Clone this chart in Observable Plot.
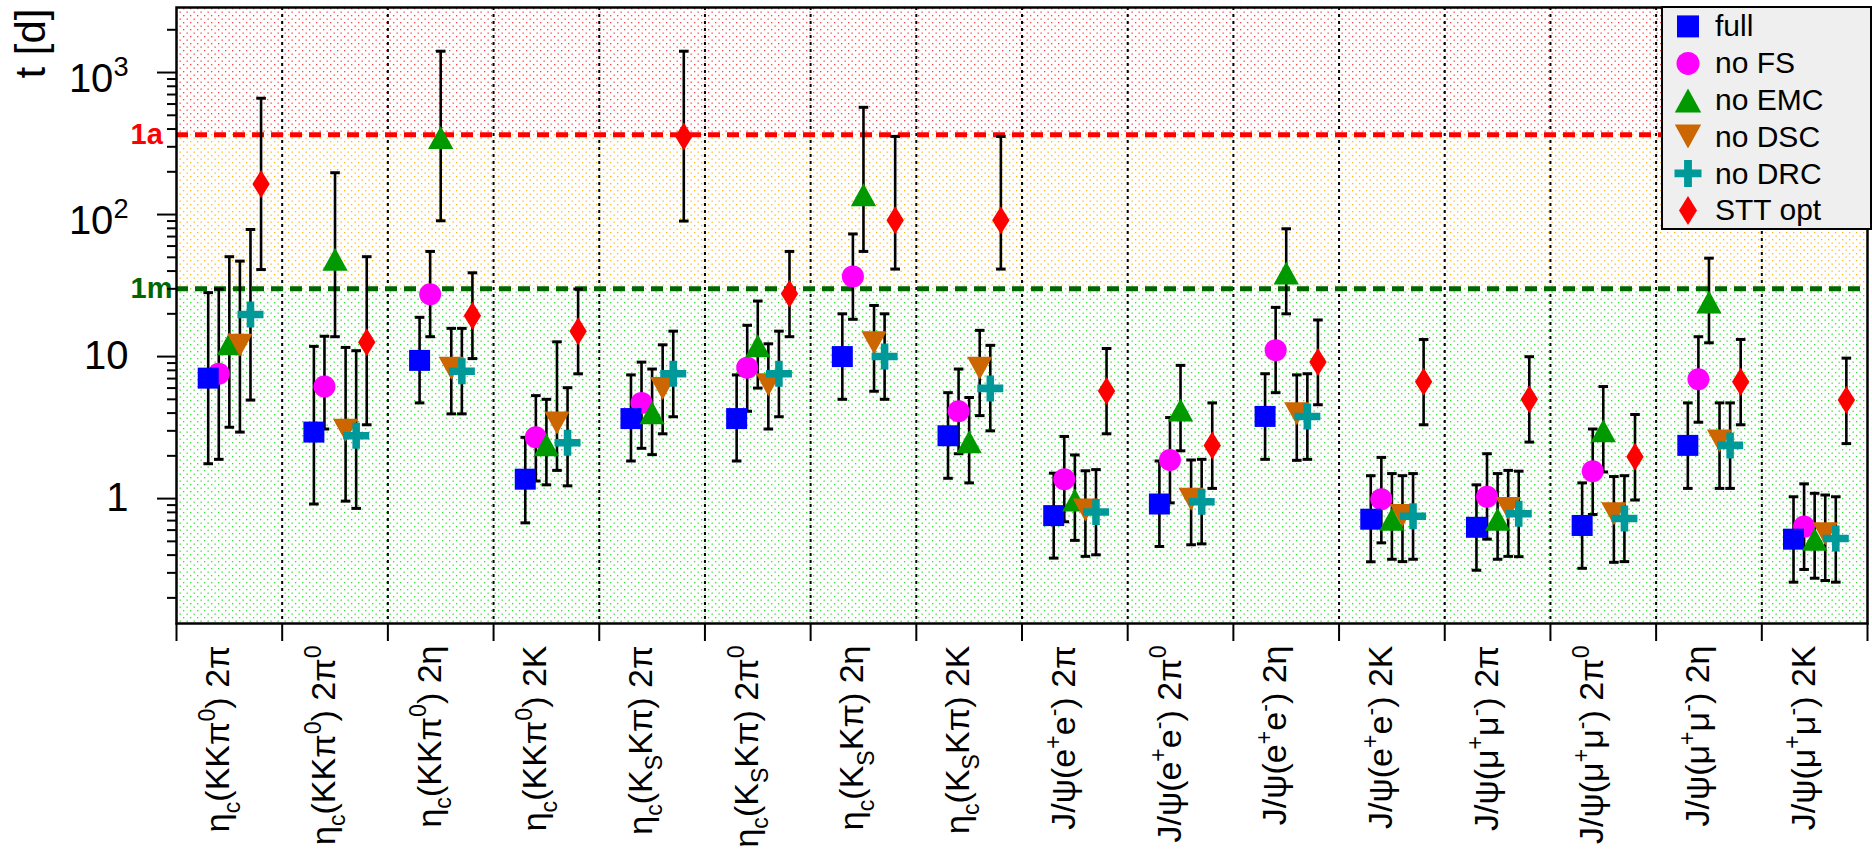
<!DOCTYPE html>
<html>
<head>
<meta charset="utf-8">
<title>Measurement time per channel</title>
<script src="https://cdn.jsdelivr.net/npm/d3@7"></script>
<script src="https://cdn.jsdelivr.net/npm/@observablehq/plot@0.6"></script>
<style>
  html, body { margin: 0; padding: 0; background: #fff; }
  #chart { position: relative; width: 1872px; height: 854px; overflow: hidden;
           font-family: "Liberation Sans", Arial, Helvetica, sans-serif; }
  #chart > svg { display: block; }
  #legend { position: absolute; left: 1661px; top: 6px; width: 211px; height: 224px;
            box-sizing: border-box; background: #efefef; border: 2px solid #000; }
  #legend .row { display: flex; align-items: center; height: 36.8px; }
  #legend svg { flex: none; display: block; }
  #legend span { font-size: 30px; line-height: 1; color: #000; }
</style>
</head>
<body>
<div id="chart"></div>
<script>
// Decay channels (x categories); _{..} and ^{..} mark sub- and superscripts
const categories = [
  "η_{c}(KKπ^{0}) 2π", "η_{c}(KKπ^{0}) 2π^{0}", "η_{c}(KKπ^{0}) 2η", "η_{c}(KKπ^{0}) 2K",
  "η_{c}(K_{S}Kπ) 2π", "η_{c}(K_{S}Kπ) 2π^{0}", "η_{c}(K_{S}Kπ) 2η", "η_{c}(K_{S}Kπ) 2K",
  "J/ψ(e^{+}e^{-}) 2π", "J/ψ(e^{+}e^{-}) 2π^{0}", "J/ψ(e^{+}e^{-}) 2η", "J/ψ(e^{+}e^{-}) 2K",
  "J/ψ(μ^{+}μ^{-}) 2π", "J/ψ(μ^{+}μ^{-}) 2π^{0}", "J/ψ(μ^{+}μ^{-}) 2η", "J/ψ(μ^{+}μ^{-}) 2K"
];

const seriesNames = ["full", "no FS", "no EMC", "no DSC", "no DRC", "STT opt"];
const seriesColors = ["#0000ff", "#ff00ff", "#009900", "#cc6600", "#009999", "#ff0000"];

// Required time t [d] per channel, with lower / upper error bounds
const full   = [7.05, 2.94, 9.4, 1.37, 3.66, 3.66, 10.0, 2.77, 0.759, 0.916, 3.79, 0.716, 0.628, 0.647, 2.37, 0.518];
const fullLo = [1.76, 0.916, 4.72, 0.675, 1.84, 1.84, 5.0, 1.39, 0.381, 0.46, 1.89, 0.359, 0.313, 0.323, 1.18, 0.258];
const fullHi = [28.2, 11.8, 18.9, 2.70, 7.43, 7.43, 20.0, 5.57, 1.51, 1.84, 7.57, 1.45, 1.25, 1.29, 4.72, 1.03];

const noFS   = [7.56, 6.15, 27.5, 2.70, 4.72, 8.36, 36.7, 4.12, 1.37, 1.87, 11.1, 0.99, 1.03, 1.56, 6.92, 0.635];
const noFSLo = [1.89, 3.09, 13.8, 1.33, 2.26, 4.12, 18.3, 2.07, 0.687, 0.933, 5.57, 0.488, 0.518, 0.773, 3.45, 0.317];
const noFSHi = [29.9, 13.9, 55.0, 5.31, 9.14, 16.6, 73.0, 8.17, 2.74, 3.72, 22.2, 1.95, 2.07, 3.09, 13.8, 1.27];

const noEMC   = [12.3, 48.4, 349, 2.39, 4.03, 11.9, 138, 2.51, 0.977, 4.2, 38.7, 0.716, 0.716, 3.0, 24.2, 0.518];
const noEMCLo = [3.18, 13.8, 90.4, 1.25, 2.04, 6.0, 55.0, 1.29, 0.508, 2.17, 20.0, 0.374, 0.374, 1.54, 12.5, 0.275];
const noEMCHi = [50.5, 197, 1413, 5.0, 8.17, 24.6, 569, 5.15, 2.03, 8.67, 79.4, 1.50, 1.50, 6.15, 49.3, 1.09];

const noDSC   = [12.0, 3.03, 8.26, 3.41, 5.97, 6.34, 12.5, 8.26, 0.83, 0.99, 3.95, 0.76, 0.853, 0.782, 2.54, 0.565];
const noDSCLo = [2.94, 0.96, 3.95, 1.58, 2.86, 3.09, 5.7, 3.84, 0.392, 0.473, 1.86, 0.36, 0.392, 0.356, 1.18, 0.265];
const noDSCHi = [47.0, 11.6, 15.8, 12.7, 12.1, 12.3, 22.9, 15.3, 1.57, 1.87, 7.43, 1.45, 1.58, 1.43, 4.72, 1.06];

const noDRC   = [19.8, 2.77, 7.88, 2.47, 7.56, 7.56, 10.0, 5.97, 0.805, 0.95, 3.79, 0.752, 0.782, 0.724, 2.37, 0.524];
const noDRCLo = [4.94, 0.853, 3.95, 1.23, 3.77, 3.77, 5.0, 3.0, 0.402, 0.48, 1.89, 0.374, 0.39, 0.36, 1.18, 0.258];
const noDRCHi = [78.5, 11.0, 15.8, 6.04, 15.1, 15.1, 20.0, 12.0, 1.60, 1.89, 7.57, 1.50, 1.56, 1.45, 4.72, 1.03];

const sttOpt   = [164, 12.6, 19.4, 15.1, 355, 27.7, 91, 91, 5.73, 2.37, 9.14, 6.64, 5.0, 1.97, 6.64, 4.95];
const sttOptLo = [41.0, 3.31, 9.68, 7.56, 90.0, 13.8, 41.3, 41.3, 2.86, 1.18, 4.58, 3.31, 2.5, 0.977, 3.31, 2.44];
const sttOptHi = [659, 50.5, 38.9, 29.9, 1413, 55.0, 355, 355, 11.4, 4.72, 18.1, 13.2, 9.98, 3.91, 13.2, 9.75];

// Reference durations in days: one month and one year
const thresholds = [30, 365];
const thresholdLabels = ["1m", "1a"];
const thresholdColors = ["#006600", "#ff0000"];

const yDomain = [0.132, 2870];
const yTicks = [1, 10, 100, 1000];
const yTickLabels = ["1", "10", "10^{2}", "10^{3}"];
const yMinorTicks = [0.2, 0.3, 0.4, 0.5, 0.6, 0.7, 0.8, 0.9, 2, 3, 4, 5, 6, 7, 8, 9,
                     20, 30, 40, 50, 60, 70, 80, 90, 200, 300, 400, 500, 600, 700, 800, 900, 2000];

// ---- marker shapes (size -> r, as Plot passes r*r*PI) ----
const rad = s => Math.sqrt(s / Math.PI);
const symSquare = {draw(c, s) { const r = rad(s); c.moveTo(-r, -r); c.lineTo(r, -r); c.lineTo(r, r); c.lineTo(-r, r); c.closePath(); }};
const symCircle = {draw(c, s) { const r = rad(s); c.moveTo(r, 0); c.arc(0, 0, r, 0, 2 * Math.PI); c.closePath(); }};
const symTriUp = {draw(c, s) { const r = rad(s); c.moveTo(0, -r); c.lineTo(1.1 * r, r); c.lineTo(-1.1 * r, r); c.closePath(); }};
const symTriDown = {draw(c, s) { const r = rad(s); c.moveTo(0, r); c.lineTo(1.1 * r, -r); c.lineTo(-1.1 * r, -r); c.closePath(); }};
const symPlus = {draw(c, s) {
  const r = rad(s), a = 0.29 * r;
  c.moveTo(-a, -r); c.lineTo(a, -r); c.lineTo(a, -a); c.lineTo(r, -a); c.lineTo(r, a); c.lineTo(a, a);
  c.lineTo(a, r); c.lineTo(-a, r); c.lineTo(-a, a); c.lineTo(-r, a); c.lineTo(-r, -a); c.lineTo(-a, -a); c.closePath();
}};
const symDiamond = {draw(c, s) { const r = rad(s); c.moveTo(0, -r); c.lineTo(0.62 * r, 0); c.lineTo(0, r); c.lineTo(-0.62 * r, 0); c.closePath(); }};
const symCap = {draw(c, s) { const r = rad(s); c.moveTo(-r, 0); c.lineTo(r, 0); }};
const symbols = [symSquare, symCircle, symTriUp, symTriDown, symPlus, symDiamond];
const markerR = [10.5, 11, 11.5, 11.5, 13, 14];

// ---- table built from the arrays ----
const seriesData = [
  [full, fullLo, fullHi], [noFS, noFSLo, noFSHi], [noEMC, noEMCLo, noEMCHi],
  [noDSC, noDSCLo, noDSCHi], [noDRC, noDRCLo, noDRCHi], [sttOpt, sttOptLo, sttOptHi]
];
const points = seriesData.flatMap(([v, lo, hi], k) =>
  categories.map((c, i) => ({k, pos: i + 0.3 + 0.1 * k, v: v[i], lo: lo[i], hi: hi[i]})));

const nCat = categories.length;
const zones = [
  {lo: yDomain[0], hi: thresholds[0], fill: "url(#dots-green)"},
  {lo: thresholds[0], hi: thresholds[1], fill: "url(#dots-orange)"},
  {lo: thresholds[1], hi: yDomain[1], fill: "url(#dots-red)"}
];

const drawOrder = [1, 0, 2, 3, 4, 5];

const plot = Plot.plot({
  width: 1872,
  height: 854,
  marginTop: 7,
  marginRight: 5,
  marginBottom: 231,
  marginLeft: 176,
  x: {domain: [0, nCat]},
  y: {type: "log", domain: yDomain},
  style: {fontFamily: '"Liberation Sans", Arial, Helvetica, sans-serif', background: "#fff", color: "#000", overflow: "visible"},
  marks: [
    ...zones.map(z => Plot.rect([z], {x1: () => 0, x2: () => nCat, y1: "lo", y2: "hi", fill: z.fill})),
    Plot.ruleX(d3.range(1, nCat), {stroke: "#000", strokeWidth: 2, strokeDasharray: "3,4"}),
    ...thresholds.map((t, j) => Plot.ruleY([t], {stroke: thresholdColors[j], strokeWidth: 5, strokeDasharray: "12,7"})),
    Plot.text(thresholds, {y: d => d, text: (d, j) => thresholdLabels[j], fill: (d, j) => thresholdColors[j],
      frameAnchor: "left", dx: -46, textAnchor: "start", lineAnchor: "middle", fontWeight: "bold", fontSize: 29}),
    // error bars
    Plot.ruleX(points, {x: "pos", y1: "lo", y2: "hi", stroke: "#000", strokeWidth: 2.6}),
    Plot.dot(points, {x: "pos", y: "lo", symbol: symCap, r: 4.8, fill: "none", stroke: "#000", strokeWidth: 3}),
    Plot.dot(points, {x: "pos", y: "hi", symbol: symCap, r: 4.8, fill: "none", stroke: "#000", strokeWidth: 3}),
    // markers
    ...drawOrder.map(k => Plot.dot(points.filter(p => p.k === k),
      {x: "pos", y: "v", symbol: symbols[k], r: markerR[k], fill: seriesColors[k], stroke: "none"})),
    Plot.frame({stroke: "#000", strokeWidth: 2.5}),
    // axes
    Plot.axisY(yMinorTicks, {tickSize: 9, strokeWidth: 2, fill: "none", tickFormat: () => "", label: null}),
    Plot.axisY(yTicks, {tickSize: 19, tickPadding: 29, strokeWidth: 2, fontSize: 40,
      tickFormat: d => yTickLabels[yTicks.indexOf(d)], label: null}),
    Plot.axisX(d3.range(nCat + 1), {tickSize: 18, strokeWidth: 2, fill: "none", tickFormat: () => "", label: null}),
    Plot.text(categories, {x: (d, i) => i + 0.5, frameAnchor: "bottom", dy: 22, rotate: -90,
      textAnchor: "end", lineAnchor: "bottom", fontSize: 34}),
    Plot.text(["t [d]"], {frameAnchor: "top-left", dx: -132, dy: 1, rotate: -90,
      textAnchor: "end", lineAnchor: "bottom", fontSize: 42})
  ]
});

const chart = document.getElementById("chart");
chart.appendChild(plot);

// dotted fill patterns for the three time zones (staggered dot grid)
const defs = d3.select(plot).insert("defs", ":first-child");
[["dots-red", "#ff4040"], ["dots-orange", "#ffb818"], ["dots-green", "#2ee42e"]].forEach(([id, col]) => {
  const p = defs.append("pattern").attr("id", id).attr("patternUnits", "userSpaceOnUse")
    .attr("width", 7).attr("height", 7);
  p.append("rect").attr("width", 7).attr("height", 7).attr("fill", "#fff");
  p.append("rect").attr("x", 1).attr("y", 1).attr("width", 1.3).attr("height", 1.3).attr("fill", col);
  p.append("rect").attr("x", 4.5).attr("y", 4.5).attr("width", 1.3).attr("height", 1.3).attr("fill", col);
});

// turn _{..} / ^{..} markup into lowered / raised tspans
function richify(el) {
  const src = el.textContent;
  if (!/[_^]\{/.test(src)) return;
  const F = parseFloat(getComputedStyle(el).fontSize) || 32;
  el.textContent = "";
  let cur = 0;
  for (const m of src.matchAll(/([_^])\{([^}]*)\}|([^_^]+)/g)) {
    const t = document.createElementNS("http://www.w3.org/2000/svg", "tspan");
    let off, size;
    if (m[1]) { off = m[1] === "^" ? -0.42 * F : 0.3 * F; size = 0.68 * F; t.textContent = m[2]; }
    else { off = 0; size = F; t.textContent = m[3]; }
    t.setAttribute("font-size", size);
    if (off !== cur) t.setAttribute("dy", off - cur);
    cur = off;
    el.appendChild(t);
  }
}
plot.querySelectorAll("text").forEach(t => {
  const isPower = /^10\^\{/.test(t.textContent);
  richify(t);
  if (isPower) t.setAttribute("transform", ((t.getAttribute("transform") || "") + " translate(0,7)").trim());
});

// legend box
const legend = document.createElement("div");
legend.id = "legend";
seriesNames.forEach((name, k) => {
  const row = document.createElement("div");
  row.className = "row";
  const sw = d3.create("svg").attr("width", 52).attr("height", 36.8);
  const p = d3.path();
  symbols[k].draw(p, Math.PI * (markerR[k] + 0.5) ** 2);
  sw.append("path").attr("transform", "translate(25,18.4)").attr("d", p.toString()).attr("fill", seriesColors[k]);
  row.appendChild(sw.node());
  const span = document.createElement("span");
  span.textContent = name;
  row.appendChild(span);
  legend.appendChild(row);
});
chart.appendChild(legend);
</script>
</body>
</html>
